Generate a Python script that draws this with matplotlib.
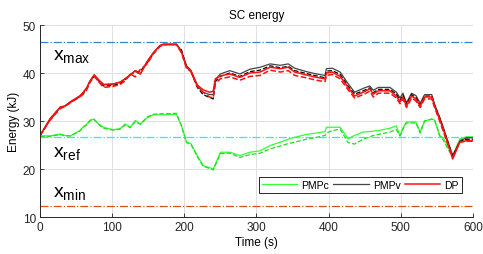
import matplotlib
matplotlib.use("Agg")
import matplotlib.pyplot as plt

plt.rcParams['font.family'] = ['Liberation Sans', 'DejaVu Sans']

# time samples (s)
t = [0, 14, 28, 34, 42, 55, 60, 65, 69, 75, 81, 88, 101, 111, 118, 125, 132, 139, 148, 157,
     166, 171, 189, 196, 203, 209, 218, 226, 235, 240, 243, 250, 263, 277, 291, 305, 319, 333,
     344, 353, 369, 383, 395, 397, 405, 416, 427, 436, 448, 457, 462, 469, 485, 494, 499, 503,
     508, 515, 521, 527, 533, 543, 547, 554, 559, 572, 582, 591, 600]

# PMPc (green)
pmpc = [26.9, 26.9, 27.3, 27.0, 26.9, 28.0, 28.8, 29.4, 30.2, 30.4, 29.4, 28.7, 28.2, 28.4, 29.4, 28.7, 30.1, 29.4, 30.6, 31.3,
        31.3, 31.3, 31.4, 29.0, 25.6, 25.3, 22.8, 20.7, 20.3, 20.0, 21.0, 23.5, 23.5, 22.8, 23.5, 23.8, 24.9, 25.6,
        26.2, 26.6, 27.2, 27.5, 27.8, 28.7, 28.7, 28.7, 26.3, 27.0, 27.7, 27.8, 27.9, 28.0, 28.5, 29.0, 26.9, 28.5,
        29.8, 29.8, 29.8, 27.7, 30.0, 30.4, 30.2, 26.9, 26.5, 22.8, 26.3, 26.7, 26.7]
pmpc_b = [26.8, 26.8, 27.2, 26.9, 26.9, 27.9, 28.7, 29.2, 30.0, 30.3, 29.3, 28.5, 28.1, 28.3, 29.2, 28.6, 29.9, 29.3, 30.8, 31.4,
          31.5, 31.5, 31.6, 29.0, 25.5, 25.2, 22.6, 20.6, 20.1, 19.8, 20.8, 23.2, 23.3, 22.4, 23.0, 23.3, 24.2, 24.8,
          25.3, 25.6, 26.2, 26.6, 27.0, 27.5, 28.0, 28.3, 25.5, 25.2, 26.2, 26.7, 27.0, 27.2, 27.7, 28.2, 26.9, 28.3,
          29.6, 29.6, 29.6, 27.5, 30.0, 30.4, 30.2, 27.0, 26.0, 22.4, 26.0, 26.6, 26.6]

# PMPv (black)
pmpv = [27.0, 30.5, 32.9, 33.1, 34.0, 35.2, 36.0, 37.0, 38.3, 39.6, 38.6, 37.6, 37.7, 38.1, 38.8, 39.6, 40.5, 39.8, 42.3, 44.2,
        45.7, 46.0, 46.0, 44.6, 41.5, 40.6, 37.3, 36.0, 35.5, 35.5, 38.6, 39.8, 40.5, 39.8, 40.8, 41.2, 41.9, 41.6,
        41.9, 41.0, 40.3, 39.8, 39.5, 40.9, 41.0, 40.2, 37.8, 36.0, 36.8, 37.3, 36.4, 37.0, 37.0, 36.0, 34.8, 35.8,
        33.8, 35.8, 35.3, 33.7, 35.5, 35.5, 33.5, 30.8, 28.7, 22.8, 25.8, 26.5, 26.5]
pmpv_b = [27.0, 30.3, 32.8, 33.0, 33.9, 35.1, 35.8, 36.8, 38.1, 39.4, 38.4, 37.3, 37.4, 37.8, 38.6, 39.7, 40.2, 40.4, 42.0, 44.0,
          45.6, 45.9, 45.9, 44.8, 41.3, 40.3, 37.0, 35.5, 34.9, 34.6, 38.2, 39.3, 40.0, 39.3, 40.3, 40.6, 41.5, 41.1,
          41.4, 40.5, 39.9, 39.4, 39.0, 40.4, 40.5, 39.7, 37.3, 35.6, 36.3, 36.9, 35.9, 36.6, 36.6, 35.6, 34.3, 35.4,
          33.4, 35.5, 34.9, 33.3, 35.2, 35.2, 33.2, 30.6, 28.4, 22.6, 25.7, 26.2, 26.2]

# DP (red)
dp = [27.0, 30.5, 32.9, 33.1, 34.0, 35.2, 36.0, 37.0, 38.3, 39.6, 38.6, 37.6, 37.7, 38.1, 38.8, 39.6, 40.5, 39.8, 42.3, 44.2,
      45.7, 46.0, 46.0, 44.4, 41.2, 40.5, 37.5, 36.5, 36.0, 36.2, 38.8, 39.4, 39.8, 39.1, 40.0, 40.2, 41.2, 40.9,
      41.2, 40.2, 39.6, 39.1, 38.8, 40.0, 40.2, 39.3, 37.0, 35.2, 36.0, 36.7, 35.6, 36.3, 36.3, 35.2, 34.0, 35.0,
      33.1, 35.2, 34.6, 33.1, 35.0, 35.0, 33.1, 30.4, 28.3, 22.1, 25.6, 25.9, 25.9]
dp_b = [27.0, 30.2, 32.6, 33.0, 33.8, 35.0, 35.6, 36.6, 38.0, 39.3, 38.2, 37.0, 37.2, 37.6, 38.4, 39.8, 39.2, 40.8, 41.8, 44.0,
        45.5, 45.9, 45.9, 44.2, 41.0, 40.3, 37.2, 36.0, 35.0, 34.8, 37.8, 38.8, 39.2, 38.5, 39.3, 39.5, 40.6, 40.2,
        40.5, 39.5, 39.0, 38.5, 38.2, 39.5, 39.7, 38.8, 36.5, 34.8, 35.5, 36.2, 35.0, 35.8, 35.8, 34.8, 33.6, 34.6,
        32.8, 34.8, 34.2, 32.8, 34.6, 34.6, 32.8, 30.0, 27.8, 22.5, 25.6, 25.8, 25.8]

x_max = 46.4
x_ref = 26.7
x_min = 12.4

fig = plt.figure(figsize=(4.83, 2.55), dpi=100)
ax = fig.add_axes([0.083, 0.145, 0.896, 0.753])

ax.axhline(x_max, color='#2F86CF', linestyle='-.', linewidth=0.9)
ax.axhline(x_ref, color='#00FFFF', linestyle='-.', linewidth=0.9)
ax.axhline(x_min, color='#D95319', linestyle='-.', linewidth=0.9)

ax.plot(t, pmpc, color='#33FF33', linewidth=0.9, label='PMPc')
ax.plot(t, pmpc_b, color='#22DD22', linewidth=0.9, linestyle='--')
ax.plot(t, pmpv, color='#444444', linewidth=0.9, label='PMPv')
ax.plot(t, pmpv_b, color='black', linewidth=0.9, linestyle='--')
ax.plot(t, dp, color='#FF1010', linewidth=1.1, label='DP')
ax.plot(t, dp_b, color='#FF1010', linewidth=1.1, linestyle='--')

ax.text(18, 42.9, r'$\mathregular{x_{max}}$', fontsize=14)
ax.text(18, 22.7, r'$\mathregular{x_{ref}}$', fontsize=14)
ax.text(18, 14.4, r'$\mathregular{x_{min}}$', fontsize=14)

ax.set_xlim(0, 600)
ax.set_ylim(10, 50)
ax.set_xticks([0, 100, 200, 300, 400, 500, 600])
ax.set_yticks([10, 20, 30, 40, 50])
ax.grid(True, color='#E0E0E0', linewidth=0.7)
ax.set_axisbelow(True)
for s in ['top', 'right']:
    ax.spines[s].set_visible(False)
for s in ['left', 'bottom']:
    ax.spines[s].set_color('#262626')
    ax.spines[s].set_linewidth(0.7)
ax.tick_params(direction='in', length=3, width=0.6, labelsize=8.5, colors='#262626', pad=3)

ax.set_title('SC energy', fontsize=8.5, pad=5)
ax.set_xlabel('Time (s)', fontsize=8.5, labelpad=2)
ax.set_ylabel('Energy (kJ)', fontsize=8.5, labelpad=2)

leg = ax.legend(loc='lower right', bbox_to_anchor=(0.975, 0.125), ncol=3, fontsize=7.5,
                handlelength=3.4, handletextpad=0.4, columnspacing=0.4, borderpad=0.3,
                fancybox=False, framealpha=1, borderaxespad=0)
leg.get_frame().set_edgecolor('#262626')
leg.get_frame().set_linewidth(0.7)

fig.savefig('out.png', dpi=100)
